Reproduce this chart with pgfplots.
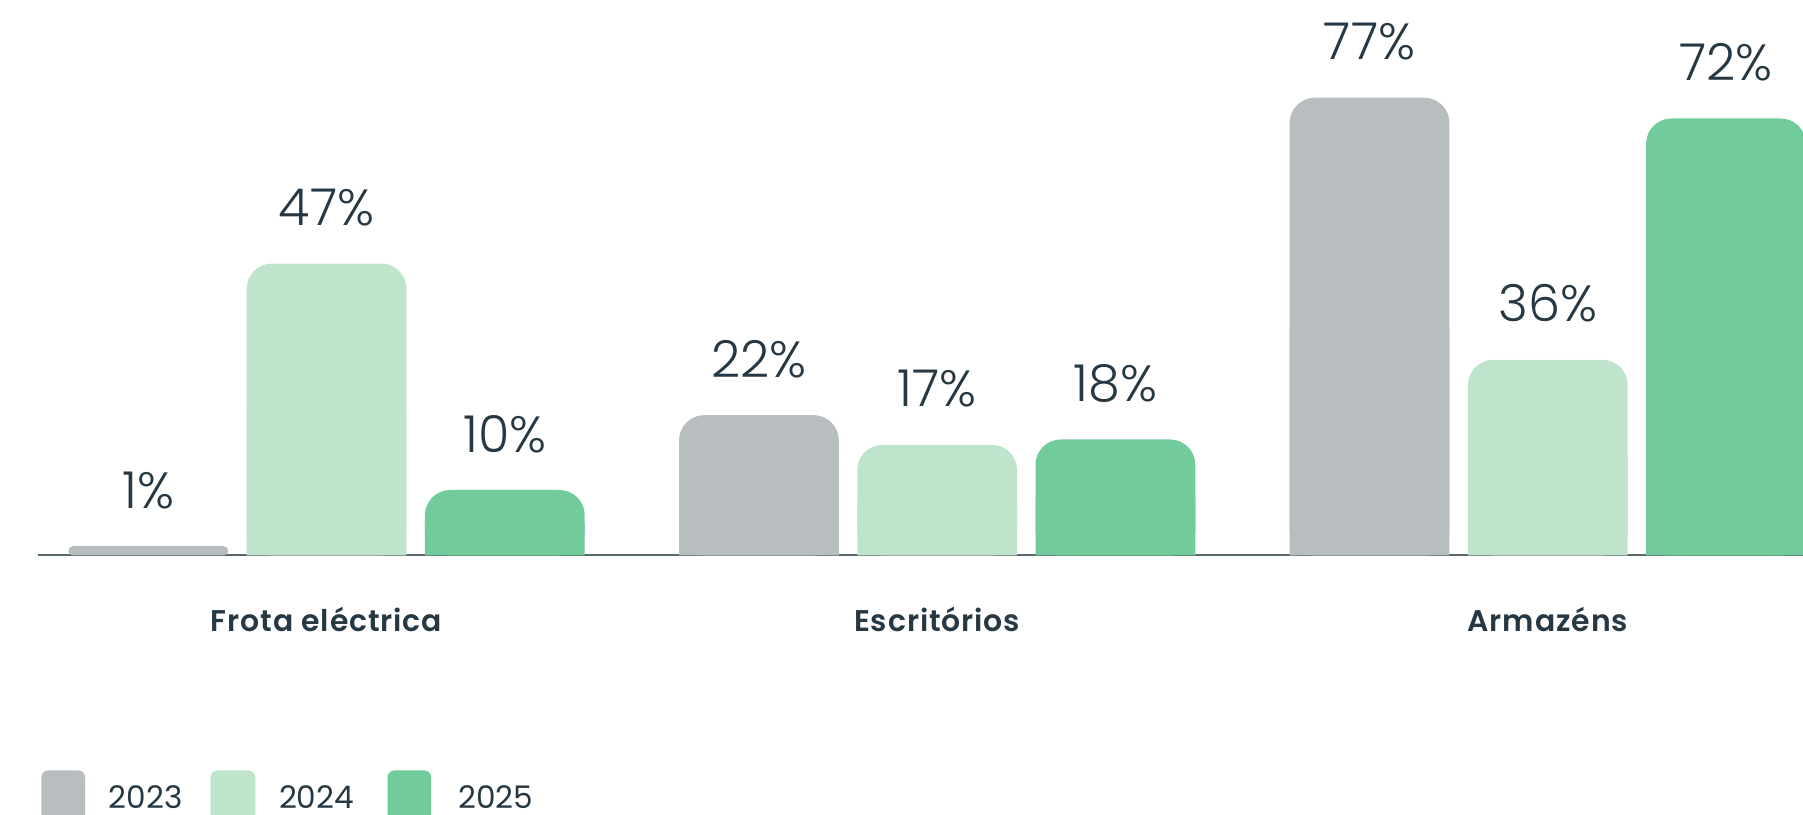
\documentclass[border=0pt]{standalone}
\usepackage{pgfplots}
\pgfplotsset{compat=1.18}
\usepackage{pgfplotstable}
\usepackage{fontspec}
\setmainfont{Poppins}
\newfontfamily\lightfont{Poppins Light}
\newfontfamily\medfont{Poppins SemiBold}[LetterSpace=3]
\definecolor{c23}{HTML}{B8BDBF}
\definecolor{c24}{HTML}{BEE5CC}
\definecolor{c25}{HTML}{72CB9B}
\definecolor{txt}{HTML}{263844}
\definecolor{axl}{HTML}{5A6870}

% bar heights as drawn (units: percent scale of the 77% bar), label = printed value
\pgfplotstableread{
x h lab
0 1.55 1
}\tAsmall
\pgfplotstableread{
x h lab
1 23.6 22
2 77.0 77
}\tA
\pgfplotstableread{
x h lab
0 49.1 47
1 18.6 17
2 32.9 36
}\tB
\pgfplotstableread{
x h lab
0 11.0 10
1 19.5 18
2 73.5 72
}\tC

\begin{document}
\begin{tikzpicture}
\useasboundingbox (0,-2.25) rectangle (15.68,4.83);
\begin{axis}[
  at={(0.33cm,0cm)}, anchor=south west,
  scale only axis, width=15.35cm, height=4.83cm,
  xmin=-0.4727, xmax=2.418, ymin=0, ymax=93.44,
  clip=false,
  axis x line=bottom, axis y line=none,
  x axis line style={-, draw=axl, line width=0.5pt},
  xtick={0,1,2},
  xticklabels={Frota eléctrica, Escritórios, Armazéns},
  xtick style={draw=none},
  xticklabel style={anchor=base, yshift=-0.59cm, inner sep=0pt, text=txt,
    font=\medfont\fontsize{7.4}{9}\selectfont},
  ytick=\empty,
  every node near coord/.append style={anchor=base, yshift=0.33cm, inner sep=0pt,
    text=txt, font=\lightfont\fontsize{12.6}{15}\selectfont},
]
% 2023
\addplot[ybar, bar width=1.39cm, bar shift=-1.55cm, fill=c23, draw=none,
  rounded corners=0.04cm, nodes near coords={\pgfplotspointmeta\%},
  every node near coord/.append style={xshift=-1.55cm},
  point meta=explicit symbolic] table[x=x, y=h, meta=lab] {\tAsmall};
\addplot[ybar, bar width=1.39cm, bar shift=-1.55cm, fill=c23, draw=none,
  rounded corners=0.22cm, nodes near coords={\pgfplotspointmeta\%},
  every node near coord/.append style={xshift=-1.55cm},
  point meta=explicit symbolic] table[x=x, y=h, meta=lab] {\tA};
\addplot[ybar, bar width=1.39cm, bar shift=-1.55cm, fill=c23, draw=none]
  table[x=x, y expr=\thisrow{h}/2] {\tA};
% 2024
\addplot[ybar, bar width=1.39cm, bar shift=0cm, fill=c24, draw=none,
  rounded corners=0.22cm, nodes near coords={\pgfplotspointmeta\%},
  point meta=explicit symbolic] table[x=x, y=h, meta=lab] {\tB};
\addplot[ybar, bar width=1.39cm, bar shift=0cm, fill=c24, draw=none]
  table[x=x, y expr=\thisrow{h}/2] {\tB};
% 2025
\addplot[ybar, bar width=1.39cm, bar shift=1.55cm, fill=c25, draw=none,
  rounded corners=0.22cm, nodes near coords={\pgfplotspointmeta\%},
  every node near coord/.append style={xshift=1.55cm},
  point meta=explicit symbolic] table[x=x, y=h, meta=lab] {\tC};
\addplot[ybar, bar width=1.39cm, bar shift=1.55cm, fill=c25, draw=none]
  table[x=x, y expr=\thisrow{h}/2] {\tC};
\end{axis}
% legend
\fill[c23, rounded corners=0.06cm] (0.36,-1.87) rectangle (0.74,-2.32);
\fill[c24, rounded corners=0.06cm] (1.83,-1.87) rectangle (2.22,-2.32);
\fill[c25, rounded corners=0.06cm] (3.37,-1.87) rectangle (3.75,-2.32);
\begin{scope}[every node/.style={anchor=base west, inner sep=0pt, text=txt,
    font=\fontsize{7.7}{9}\selectfont}]
\node at (0.94,-2.20) {2023};
\node at (2.42,-2.20) {2024};
\node at (3.98,-2.20) {2025};
\end{scope}
\end{tikzpicture}
\end{document}
